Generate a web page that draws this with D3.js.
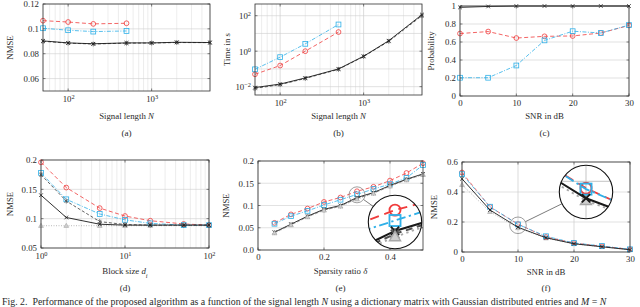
<!DOCTYPE html>
<html>
<head>
<meta charset="utf-8">
<script src="https://cdn.jsdelivr.net/npm/d3@7"></script>
<style>
body { margin: 0; background: #fff; }
svg { display: block; font-family: "Liberation Serif", "DejaVu Serif", serif; }
</style>
</head>
<body>
<svg id="fig" width="640" height="307"></svg>
<script>
// ---- data ----
// (a) NMSE vs signal length
const lenAll = [50, 100, 200, 500, 1000, 2000, 5000];
const lenShort = [50, 100, 200, 500];
const nmseLenProp = [0.0903, 0.0887, 0.0880, 0.0887, 0.0887, 0.0892, 0.0890];
const nmseLenOracle = [0.0900, 0.0885, 0.0878, 0.0885, 0.0886, 0.0890, 0.0889];
const nmseLenRed = [0.1066, 0.1055, 0.1040, 0.1045];
const nmseLenBlue = [0.1005, 0.0989, 0.0978, 0.0983];

// (b) run time vs signal length
const timeProp = [0.0089, 0.014, 0.031, 0.10, 0.52, 3.9, 115];
const timeOracle = [0.0080, 0.013, 0.029, 0.095, 0.50, 3.6, 100];
const timeRed = [0.05, 0.155, 1.0, 12];
const timeBlue = [0.095, 0.46, 2.6, 32];

// (c) probability vs SNR
const snrC = [0, 5, 10, 15, 20, 25, 30];
const probProp = [0.985, 0.995, 1, 1, 1, 1, 1];
const probRed = [0.694, 0.716, 0.644, 0.663, 0.667, 0.70, 0.784];
const probBlue = [0.203, 0.203, 0.339, 0.618, 0.72, 0.70, 0.788];

// (d) NMSE vs block size
const blockSize = [1, 2, 5, 10, 20, 50, 100];
const blkRed = [0.196, 0.153, 0.118, 0.1045, 0.0965, 0.091, 0.089];
const blkBlue = [0.178, 0.133, 0.108, 0.098, 0.092, 0.089, 0.089];
const blkOracle = [0.175, 0.130, 0.095, 0.090, 0.089, 0.089, 0.089];
const blkProp = [0.140, 0.102, 0.0905, 0.089, 0.089, 0.089, 0.089];
const blkBound = [0.088, 0.088, 0.088, 0.088, 0.088, 0.088, 0.088];

// (e) NMSE vs sparsity ratio
const sparsity = [0.05, 0.1, 0.15, 0.2, 0.25, 0.3, 0.35, 0.4, 0.45, 0.5];
const spRed = [0.061, 0.080, 0.093, 0.108, 0.118, 0.132, 0.142, 0.156, 0.173, 0.195];
const spBlue = [0.059, 0.076, 0.088, 0.101, 0.113, 0.125, 0.137, 0.148, 0.162, 0.191];
const spProp = [0.040, 0.058, 0.076, 0.0915, 0.100, 0.118, 0.129, 0.145, 0.159, 0.171];
const spOracle = [0.039, 0.057, 0.075, 0.090, 0.099, 0.116, 0.128, 0.144, 0.158, 0.170];
const spBound = [0.038, 0.056, 0.074, 0.089, 0.098, 0.114, 0.127, 0.143, 0.157, 0.169];

// (f) NMSE vs SNR
const snrF = [0, 5, 10, 15, 20, 25, 30];
const fRed = [0.53, 0.30, 0.186, 0.100, 0.060, 0.038, 0.018];
const fBlue = [0.519, 0.302, 0.184, 0.105, 0.060, 0.040, 0.018];
const fProp = [0.488, 0.280, 0.165, 0.095, 0.055, 0.035, 0.015];
const fBound = [0.448, 0.268, 0.160, 0.092, 0.054, 0.034, 0.015];

// ---- styles ----
const FS = 8.8;
const TXT = "#2a2a2a";
const RED = "#f03c3c", BLUE = "#2fb0e8", BLACK = "#1a1a1a", DARK = "#505050", GRAY = "#a8a8a8";
const styles = {
	prop: { color: BLACK, dash: null, mark: "x", w: 0.9 },
	oracle: { color: DARK, dash: "3,2", mark: "star", w: 0.9 },
	bound: { color: GRAY, dash: "1,1.5", mark: "tri", w: 0.8 },
	red: { color: RED, dash: "4,2.5", mark: "circle", w: 0.8 },
	blue: { color: BLUE, dash: "4,1.5,1,1.5", mark: "square", w: 0.8 }
};

const fig = d3.select("#fig");
const defs = fig.append("defs");

function drawMarker(g, kind, px, py, s, color) {
	const k = 2.4 * s, sw = 0.8 * s;
	if (kind === "circle") {
		g.append("circle").attr("cx", px).attr("cy", py).attr("r", k)
			.attr("fill", "none").attr("stroke", color).attr("stroke-width", sw);
	} else if (kind === "square") {
		g.append("rect").attr("x", px - k).attr("y", py - k).attr("width", 2 * k).attr("height", 2 * k)
			.attr("fill", "none").attr("stroke", color).attr("stroke-width", sw);
	} else if (kind === "x" || kind === "star") {
		const a = k * 0.75;
		let d = `M${px - a},${py - a}L${px + a},${py + a}M${px - a},${py + a}L${px + a},${py - a}`;
		if (kind === "star") d += `M${px},${py - k}L${px},${py + k}`;
		g.append("path").attr("d", d).attr("stroke", color).attr("stroke-width", sw);
	} else if (kind === "tri") {
		const h = k;
		g.append("path").attr("d", `M${px},${py - h}L${px + h},${py + h * 0.7}L${px - h},${py + h * 0.7}Z`)
			.attr("fill", "#cfcfcf").attr("stroke", color).attr("stroke-width", sw * 0.8);
	}
}

function drawSeries(g, xs, ys, st, X, Y, s) {
	const line = d3.line().x((d, i) => X(xs[i])).y(d => Y(d));
	g.append("path").datum(ys)
		.attr("d", line)
		.attr("fill", "none")
		.attr("stroke", st.color)
		.attr("stroke-width", st.w * s)
		.attr("stroke-dasharray", st.dash ? st.dash.split(",").map(v => v * s).join(",") : null);
	ys.forEach((v, i) => drawMarker(g, st.mark, X(xs[i]), Y(v), s, st.color));
}

function richText(sel, parts) {
	parts.forEach(p => {
		const t = sel.append("tspan").text(p.t);
		if (p.i) t.attr("font-style", "italic");
		if (p.sub) t.attr("baseline-shift", "sub").attr("font-size", "0.72em");
	});
}

function powLabel(sel, d) {
	const e = Math.round(Math.log10(d));
	sel.text("");
	sel.append("tspan").text("10");
	sel.append("tspan").attr("baseline-shift", "super").attr("font-size", "0.72em")
		.text(e < 0 ? "\u2212" + (-e) : e);
}

function near(list, d) {
	return list.some(v => Math.abs(v - d) / Math.max(Math.abs(v), 1e-9) < 1e-6);
}

function makePanel(p) {
	const g = fig.append("g");
	const x = (p.xLog ? d3.scaleLog() : d3.scaleLinear()).domain(p.xDom).range([p.l, p.r]);
	const y = (p.yLog ? d3.scaleLog() : d3.scaleLinear()).domain(p.yDom).range([p.b, p.t]);
	const gx = p.xLog ? x.ticks() : p.xTicks;
	const gy = p.yGrid || p.yTicks;

	// grid
	const grid = g.append("g");
	grid.selectAll("line.vx").data(gx).enter().append("line")
		.attr("x1", d => x(d)).attr("x2", d => x(d)).attr("y1", p.t).attr("y2", p.b)
		.attr("stroke", d => near(p.xTicks, d) ? "#c4c4c4" : "#e0e0e0")
		.attr("stroke-width", 0.6);
	grid.selectAll("line.hy").data(gy).enter().append("line")
		.attr("x1", p.l).attr("x2", p.r).attr("y1", d => y(d)).attr("y2", d => y(d))
		.attr("stroke", "#cfcfcf")
		.attr("stroke-width", 0.6);

	// axes
	const ax = g.append("g").attr("transform", `translate(0,${p.b})`)
		.call(d3.axisBottom(x).tickValues(p.xTicks).tickSize(0).tickPadding(p.xPad || 4)
			.tickFormat(p.xFmt || (d => d)));
	const ay = g.append("g").attr("transform", `translate(${p.l},0)`)
		.call(d3.axisLeft(y).tickValues(p.yTicks).tickSize(0).tickPadding(4)
			.tickFormat(p.yFmt || (d => d)));
	[ax, ay].forEach(a => {
		a.select(".domain").remove();
		a.attr("font-size", FS).attr("font-family", null);
		a.selectAll("text").attr("fill", TXT);
	});
	if (p.xLog) ax.selectAll("text").each(function(d) { powLabel(d3.select(this), d); });
	if (p.yLog) ay.selectAll("text").each(function(d) { powLabel(d3.select(this), d); });

	// small inner tick marks
	const tk = g.append("g").attr("stroke", "#333").attr("stroke-width", 0.6);
	p.xTicks.forEach(d => {
		tk.append("line").attr("x1", x(d)).attr("x2", x(d)).attr("y1", p.b).attr("y2", p.b - 2.5);
		tk.append("line").attr("x1", x(d)).attr("x2", x(d)).attr("y1", p.t).attr("y2", p.t + 2.5);
	});
	p.yTicks.forEach(d => {
		tk.append("line").attr("y1", y(d)).attr("y2", y(d)).attr("x1", p.l).attr("x2", p.l + 2.5);
		tk.append("line").attr("y1", y(d)).attr("y2", y(d)).attr("x1", p.r).attr("x2", p.r - 2.5);
	});

	// series
	const sg = g.append("g");
	p.series.forEach(s => drawSeries(sg, s.x, s.y, styles[s.st], x, y, 1));

	// frame
	g.append("rect").attr("x", p.l).attr("y", p.t).attr("width", p.r - p.l).attr("height", p.b - p.t)
		.attr("fill", "none").attr("stroke", "#333").attr("stroke-width", 0.8);

	// labels
	richText(g.append("text").attr("x", (p.l + p.r) / 2).attr("y", p.xLabY)
		.attr("text-anchor", "middle").attr("font-size", FS).attr("fill", TXT), p.xLabel);
	richText(g.append("text")
		.attr("transform", `translate(${p.yLabX},${(p.t + p.b) / 2}) rotate(-90)`)
		.attr("text-anchor", "middle").attr("dy", "0.35em").attr("font-size", FS).attr("fill", TXT), p.yLabel);
	g.append("text").attr("x", (p.l + p.r) / 2).attr("y", p.subY)
		.attr("text-anchor", "middle").attr("font-size", FS + 0.4).attr("fill", TXT).text(p.sub);

	return { g, x, y, p, gx, gy };
}

function inset(pn, id, c) {
	const { x, y, p } = pn;
	const cx = x(c.xv), cy = y(c.yv);
	const m = c.R / c.r;
	const X = d => c.bx + (x(d) - cx) * m;
	const Y = d => c.by + (y(d) - cy) * m;

	defs.append("clipPath").attr("id", id)
		.append("circle").attr("cx", c.bx).attr("cy", c.by).attr("r", c.R);

	// link line between the two circles
	const dx = c.bx - cx, dy = c.by - cy, len = Math.hypot(dx, dy);
	const ux = dx / len, uy = dy / len;
	pn.g.append("line")
		.attr("x1", cx + ux * c.r).attr("y1", cy + uy * c.r)
		.attr("x2", c.bx - ux * c.R).attr("y2", c.by - uy * c.R)
		.attr("stroke", "#444").attr("stroke-width", 0.7);
	pn.g.append("circle").attr("cx", cx).attr("cy", cy).attr("r", c.r)
		.attr("fill", "none").attr("stroke", "#777").attr("stroke-width", 0.7);

	const ig = pn.g.append("g").attr("clip-path", `url(#${id})`);
	ig.append("circle").attr("cx", c.bx).attr("cy", c.by).attr("r", c.R).attr("fill", "#fff");
	pn.gx.forEach(d => ig.append("line").attr("x1", X(d)).attr("x2", X(d))
		.attr("y1", c.by - c.R).attr("y2", c.by + c.R).attr("stroke", "#cfcfcf").attr("stroke-width", 1.2));
	pn.gy.forEach(d => ig.append("line").attr("y1", Y(d)).attr("y2", Y(d))
		.attr("x1", c.bx - c.R).attr("x2", c.bx + c.R).attr("stroke", "#cfcfcf").attr("stroke-width", 1.2));
	p.series.forEach(s => drawSeries(ig, s.x, s.y, styles[s.st], X, Y, 2.3));

	pn.g.append("circle").attr("cx", c.bx).attr("cy", c.by).attr("r", c.R)
		.attr("fill", "none").attr("stroke", "#111").attr("stroke-width", 1.1);
}

const fmtLin = d => String(d);

// (a)
makePanel({
	l: 43, r: 210, t: 4, b: 91,
	xLog: true, xDom: [50, 5000], xTicks: [100, 1000], xPad: 5,
	yDom: [0.05, 0.12], yTicks: [0.06, 0.08, 0.1, 0.12], yFmt: fmtLin,
	xLabel: [{ t: "Signal length " }, { t: "N", i: true }], xLabY: 119,
	yLabel: [{ t: "NMSE" }], yLabX: 10, sub: "(a)", subY: 136,
	series: [
		{ x: lenShort, y: nmseLenRed, st: "red" },
		{ x: lenShort, y: nmseLenBlue, st: "blue" },
		{ x: lenAll, y: nmseLenOracle, st: "oracle" },
		{ x: lenAll, y: nmseLenProp, st: "prop" }
	]
});

// (b)
makePanel({
	l: 255, r: 422, t: 4, b: 95,
	xLog: true, xDom: [50, 5000], xTicks: [100, 1000], xPad: 5,
	yLog: true, yDom: [Math.pow(10, -2.47), Math.pow(10, 2.66)], yTicks: [0.01, 1, 100],
	yGrid: [0.01, 0.1, 1, 10, 100],
	xLabel: [{ t: "Signal length " }, { t: "N", i: true }], xLabY: 119,
	yLabel: [{ t: "Time in s" }], yLabX: 227, sub: "(b)", subY: 136,
	series: [
		{ x: lenShort, y: timeRed, st: "red" },
		{ x: lenShort, y: timeBlue, st: "blue" },
		{ x: lenAll, y: timeOracle, st: "oracle" },
		{ x: lenAll, y: timeProp, st: "prop" }
	]
});

// (c)
makePanel({
	l: 460, r: 629, t: 6, b: 96,
	xDom: [0, 30], xTicks: [0, 10, 20, 30],
	yDom: [0, 1], yTicks: [0, 0.2, 0.4, 0.6, 0.8, 1], yFmt: fmtLin,
	xLabel: [{ t: "SNR in dB" }], xLabY: 119,
	yLabel: [{ t: "Probability" }], yLabX: 431, sub: "(c)", subY: 136,
	series: [
		{ x: snrC, y: probRed, st: "red" },
		{ x: snrC, y: probBlue, st: "blue" },
		{ x: snrC, y: probProp, st: "prop" }
	]
});

// (d)
makePanel({
	l: 41, r: 209, t: 160, b: 248,
	xLog: true, xDom: [1, 100], xTicks: [1, 10, 100], xPad: 5,
	yDom: [0.05, 0.2], yTicks: [0.05, 0.1, 0.15, 0.2], yFmt: fmtLin,
	xLabel: [{ t: "Block size " }, { t: "d", i: true }, { t: "i", i: true, sub: true }], xLabY: 274,
	yLabel: [{ t: "NMSE" }], yLabX: 10, sub: "(d)", subY: 291,
	series: [
		{ x: blockSize, y: blkBound, st: "bound" },
		{ x: blockSize, y: blkRed, st: "red" },
		{ x: blockSize, y: blkBlue, st: "blue" },
		{ x: blockSize, y: blkOracle, st: "oracle" },
		{ x: blockSize, y: blkProp, st: "prop" }
	]
});

// (e)
const pe = makePanel({
	l: 258, r: 423, t: 161, b: 250,
	xDom: [0, 0.5], xTicks: [0, 0.2, 0.4], xFmt: fmtLin,
	yDom: [0, 0.2], yTicks: [0, 0.05, 0.1, 0.15, 0.2], yFmt: d => d === 0 ? "0.0" : String(d),
	xLabel: [{ t: "Sparsity ratio " }, { t: "\u03b4", i: true }], xLabY: 274,
	yLabel: [{ t: "NMSE" }], yLabX: 226, sub: "(e)", subY: 291,
	series: [
		{ x: sparsity, y: spRed, st: "red" },
		{ x: sparsity, y: spBlue, st: "blue" },
		{ x: sparsity, y: spProp, st: "prop" },
		{ x: sparsity, y: spOracle, st: "oracle" },
		{ x: sparsity, y: spBound, st: "bound" }
	]
});
inset(pe, "clipE", { xv: 0.3, yv: 0.124, r: 8, bx: 395, by: 222, R: 26.7 });

// (f)
const pf = makePanel({
	l: 462, r: 630, t: 162, b: 252,
	xDom: [0, 30], xTicks: [0, 10, 20, 30],
	yDom: [0, 0.6], yTicks: [0, 0.2, 0.4, 0.6], yFmt: fmtLin,
	xLabel: [{ t: "SNR in dB" }], xLabY: 275,
	yLabel: [{ t: "NMSE" }], yLabX: 434, sub: "(f)", subY: 291,
	series: [
		{ x: snrF, y: fBound, st: "bound" },
		{ x: snrF, y: fRed, st: "red" },
		{ x: snrF, y: fBlue, st: "blue" },
		{ x: snrF, y: fProp, st: "prop" }
	]
});
inset(pf, "clipF", { xv: 10, yv: 0.178, r: 8.3, bx: 586, by: 192, R: 26.7 });

// caption (kept just inside the bottom edge)
richText(fig.append("text").attr("x", 2).attr("y", 304.5).attr("font-size", 9.9).attr("fill", TXT), [
	{ t: "Fig. 2.\u2002Performance of the proposed algorithm as a function of the signal length " },
	{ t: "N", i: true },
	{ t: " using a dictionary matrix with Gaussian distributed entries and " },
	{ t: "M", i: true }, { t: " = " }, { t: "N", i: true }
]);
</script>
</body>
</html>
